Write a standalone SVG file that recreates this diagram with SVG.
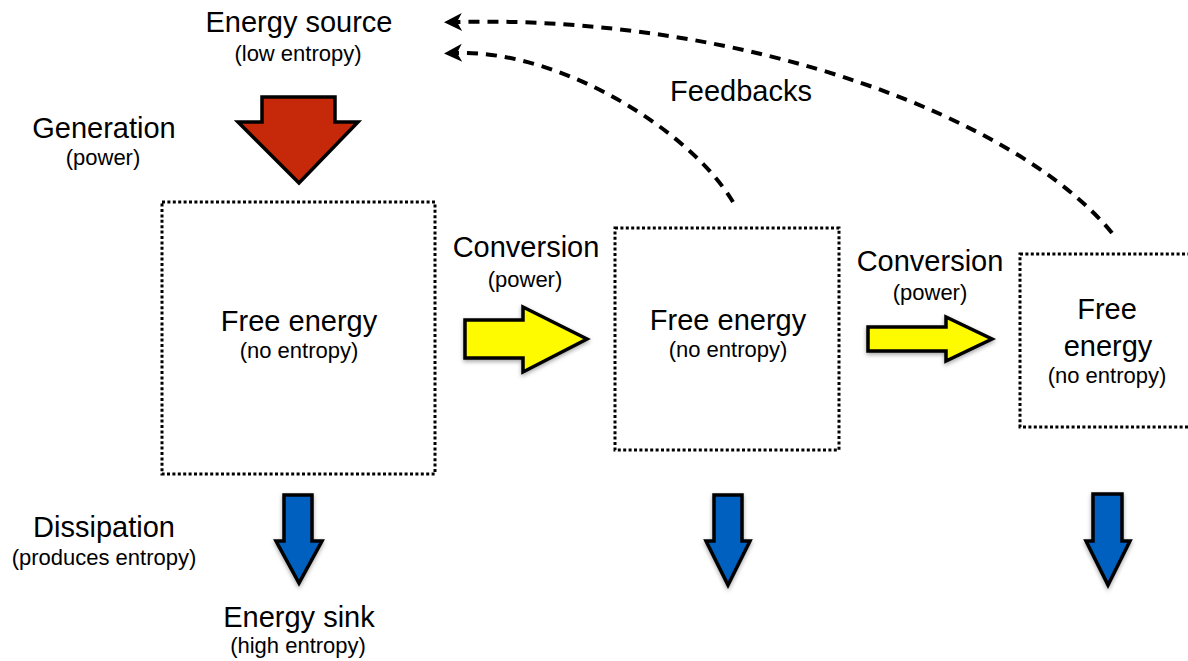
<svg xmlns="http://www.w3.org/2000/svg" width="1188" height="661" viewBox="0 0 1188 661">
<defs>
<style>
text{font-family:"Liberation Sans",Arial,Helvetica,sans-serif;fill:#000;text-anchor:middle}
.big{font-size:29px}
.small{font-size:22px}
.box{fill:none;stroke:#000;stroke-width:3;stroke-dasharray:3 2.4}
.arrow{stroke:#000;stroke-width:3.5;stroke-linejoin:miter}
.red{fill:#c6290a}
.yellow{fill:#fefb00;filter:url(#shadow)}
.blue{fill:#0560c0;filter:url(#shadow)}
.fb{fill:none;stroke:#000;stroke-width:4;stroke-dasharray:11 8}
</style>
<filter id="shadow" x="-30%" y="-30%" width="160%" height="160%">
<feDropShadow dx="0" dy="2" stdDeviation="2" flood-color="#000" flood-opacity="0.35"/>
</filter>
<marker id="head" markerUnits="userSpaceOnUse" markerWidth="24" markerHeight="24" viewBox="-2 -12 24 24" refX="5" refY="0" orient="auto">
<path d="M18,0 L0,-9 L5,0 L0,9 Z" fill="#000"/>
</marker>
</defs>

<g id="energy-source">
<text class="big" x="299" y="32">Energy source</text>
<text class="small" x="298" y="61">(low entropy)</text>
</g>

<g id="generation">
<text class="big" x="104" y="138">Generation</text>
<text class="small" x="103" y="165">(power)</text>
<polygon class="arrow red" points="262,97 335,97 335,122 358,122 299,183 238,122 262,122"/>
</g>

<g id="free-energy-1">
<rect class="box" x="162" y="202" width="273" height="272"/>
<text class="big" x="299" y="331">Free energy</text>
<text class="small" x="299" y="358">(no entropy)</text>
</g>

<g id="conversion-1">
<text class="big" x="526" y="257">Conversion</text>
<text class="small" x="525" y="287">(power)</text>
<polygon class="arrow yellow" points="465,320 523,320 523,307 587,339 523,372 523,358 465,358"/>
</g>

<g id="free-energy-2">
<rect class="box" x="615" y="228" width="224" height="222"/>
<text class="big" x="728" y="330">Free energy</text>
<text class="small" x="728" y="357">(no entropy)</text>
</g>

<g id="conversion-2">
<text class="big" x="930" y="271">Conversion</text>
<text class="small" x="930" y="300">(power)</text>
<polygon class="arrow yellow" points="868,327 946,327 946,317 992,339 946,361 946,351 868,351"/>
</g>

<g id="free-energy-3">
<rect class="box" x="1020" y="254" width="200" height="173"/>
<text class="big" x="1107" y="319">Free</text>
<text class="big" x="1108" y="356">energy</text>
<text class="small" x="1107" y="383">(no entropy)</text>
</g>

<g id="dissipation">
<text class="big" x="104" y="537">Dissipation</text>
<text class="small" x="104" y="565">(produces entropy)</text>
</g>

<g id="sink-1">
<polygon class="arrow blue" points="284,495 312,495 312,541 322,541 299,583 276,541 284,541"/>
<text class="big" x="299" y="627">Energy sink</text>
<text class="small" x="298" y="653">(high entropy)</text>
</g>

<g id="sink-2">
<polygon class="arrow blue" points="714,495 742,495 742,541 750,541 728,585 706,541 714,541"/>
</g>

<g id="sink-3">
<polygon class="arrow blue" points="1093,494 1122,494 1122,541 1130,541 1108,585 1086,541 1093,541"/>
</g>

<g id="feedbacks">
<path class="fb" d="M1112,233 C1020,120 750,15 457,22" marker-end="url(#head)"/>
<path class="fb" d="M733,202 C690,130 560,50 457,53" marker-end="url(#head)"/>
<text class="big" x="741" y="101">Feedbacks</text>
</g>
</svg>
